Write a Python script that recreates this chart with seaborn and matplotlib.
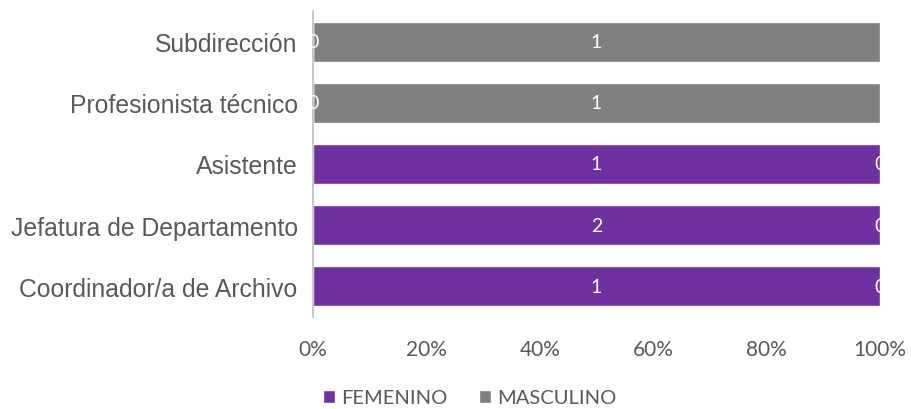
import matplotlib
matplotlib.use("Agg")
import matplotlib.pyplot as plt
import seaborn as sns
import pandas as pd
from matplotlib.patches import Patch
from matplotlib.ticker import PercentFormatter

categories = ["Subdirección", "Profesionista técnico", "Asistente",
              "Jefatura de Departamento", "Coordinador/a de Archivo"]
femenino = [0, 0, 1, 2, 1]
masculino = [1, 1, 0, 0, 0]
series_names = ["FEMENINO", "MASCULINO"]
xticks = [0, 20, 40, 60, 80, 100]

PURPLE = "#7030A0"
GRAY = "#808080"
TEXT = "#595959"

total = [f + m for f, m in zip(femenino, masculino)]
df = pd.DataFrame({
    "cat": categories,
    "fem_pct": [f / t * 100 for f, t in zip(femenino, total)],
    "cum_pct": [100.0 for _ in total],
})

sns.set_theme(style="white")
plt.rcParams["font.family"] = ["Liberation Sans", "DejaVu Sans"]

fig = plt.figure(figsize=(9.11, 4.10), dpi=100)
ax = fig.add_axes([313 / 911, 1 - 318 / 410, (880 - 313) / 911, (318 - 12) / 410])

sns.barplot(data=df, y="cat", x="cum_pct", order=categories, color=GRAY,
            saturation=1, width=0.656, ax=ax)
sns.barplot(data=df, y="cat", x="fem_pct", order=categories, color=PURPLE,
            saturation=1, width=0.656, ax=ax)

for i, (f, m) in enumerate(zip(femenino, masculino)):
    fp = df["fem_pct"][i]
    ax.text(fp / 2, i, str(f), color="white", ha="center", va="center",
            fontsize=14, family=["Lato", "DejaVu Sans"])
    ax.text(fp + (100 - fp) / 2, i, str(m), color="white", ha="center",
            va="center", fontsize=14, family=["Lato", "DejaVu Sans"])

ax.set_xlim(0, 100)
ax.set_xticks(xticks)
ax.xaxis.set_major_formatter(PercentFormatter(decimals=0))
ax.set_xlabel("")
ax.set_ylabel("")
for s in ["top", "right", "bottom"]:
    ax.spines[s].set_visible(False)
ax.spines["left"].set_color("#BFBFBF")
ax.spines["left"].set_linewidth(1.2)
ax.tick_params(axis="y", length=0, pad=11, labelsize=17.8, labelcolor=TEXT)
ax.tick_params(axis="x", length=0, pad=16, labelsize=15, labelcolor=TEXT)
for lab in ax.get_xticklabels():
    lab.set_family(["Lato", "DejaVu Sans"])

handles = [Patch(facecolor=PURPLE, label=series_names[0]),
           Patch(facecolor=GRAY, label=series_names[1])]
fig.legend(handles=handles, loc="center", bbox_to_anchor=(470 / 911, 1 - 399 / 410),
           ncol=2, frameon=False, handlelength=0.6, handleheight=0.6,
           handletextpad=0.3, columnspacing=1.55,
           prop={"family": ["Lato", "DejaVu Sans"], "size": 14.5})
for t in fig.legends[0].get_texts():
    t.set_color(TEXT)

fig.savefig("out.png", dpi=100)
